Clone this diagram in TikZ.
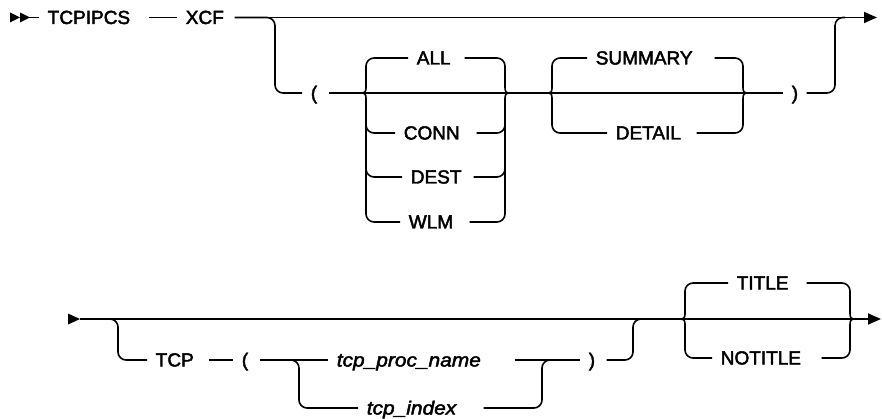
\documentclass[tikz,border=0pt]{standalone}
\usepackage{fontspec}
\setmainfont{Liberation Sans}[FakeBold=2.4, ItalicFeatures={FakeStretch=1.1}]
\usetikzlibrary{arrows.meta}
\begin{document}
\begin{tikzpicture}[x=1pt,y=-1pt,line width=1.6pt,
  lbl/.style={anchor=west,inner xsep=8pt,inner ysep=0pt,text height=13pt,text depth=0pt,
    align=left,text width=#1pt,font=\fontsize{19}{22}\selectfont},
  itl/.style={lbl=#1,font=\fontsize{19}{22}\selectfont\itshape},
  rc/.style={rounded corners=8pt},
  endarrow/.style={-{Triangle[length=13pt,width=11pt]}}]
\useasboundingbox (0,0) rectangle (882,419);

% ---------- row 1 ----------
\fill (10,12.5) -- (20,17.5) -- (10,22.5) -- cycle;
\fill (20,12.5) -- (30,17.5) -- (20,22.5) -- cycle;
\coordinate (s1) at (20,17.5);
\node[lbl=92] (tcpipcs) at (39,17.5) {TCPIPCS};
\node[lbl=40] (xcf) at (177,17.5) {XCF};
\node[lbl=9] (lp1) at (302,93) {(};
\node[lbl=39] (all) at (408,58) {ALL};
\node[lbl=64] (conn) at (395,133) {CONN};
\node[lbl=54] (dest) at (402,177) {DEST};
\node[lbl=52] (wlm) at (400,222) {WLM};
\node[lbl=110] (summ) at (587,58) {SUMMARY};
\node[lbl=72] (detail) at (607,133) {DETAIL};
\node[lbl=6] (rp1) at (783,93) {)};
\coordinate (e1) at (877,17.5);
\coordinate (b1) at (275,50);
\coordinate (b2) at (835,50);
\coordinate (j1) at (845,17.5);

\draw (s1) -- (tcpipcs.west);
\draw (tcpipcs.east) -- (xcf.west);
\draw[endarrow] (xcf.east) -- (e1);
\draw[rc] (xcf.east) -| (b1) |- (lp1.west);
\draw (lp1.east) -- (rp1.west);
\draw[rc] (rp1.east) -| (b2) |- (j1);

% ALL group left brace
\draw[rc] (all.west) -| (366,85);
\draw (366,85) .. controls (366,93) .. (358,93) .. controls (366,93) .. (366,101);
\draw[rc] (366,101) |- (wlm.west);
\draw[rc] (366,110) |- (conn.west);
\draw[rc] (366,150) |- (dest.west);
% ALL group right brace
\draw[rc] (all.east) -| (505,85);
\draw (505,85) .. controls (505,93) .. (513,93) .. controls (505,93) .. (505,101);
\draw[rc] (505,101) |- (wlm.east);
\draw[rc] (505,110) |- (conn.east);
\draw[rc] (505,150) |- (dest.east);

% SUMMARY group
\draw[rc] (summ.west) -| (552,85);
\draw (552,85) .. controls (552,93) .. (545,93) .. controls (552,93) .. (552,101);
\draw[rc] (552,101) |- (detail.west);
\draw[rc] (summ.east) -| (743,85);
\draw (743,85) .. controls (743,93) .. (751,93) .. controls (743,93) .. (743,101);
\draw[rc] (743,101) |- (detail.east);

% ---------- row 2 ----------
\fill (68,313.5) -- (80,319) -- (68,324.5) -- cycle;
\coordinate (s2) at (80,319);
\coordinate (e2) at (881,319);
\node[lbl=44] (tcp) at (147,360) {TCP};
\node[lbl=9] (lp2) at (233,360) {(};
\node[itl=169] (pname) at (328,360) {tcp\_proc\_name};
\node[itl=108] (pidx) at (358,408) {tcp\_index};
\node[lbl=9] (rp2) at (580,360) {)};
\node[lbl=61] (title) at (728,283) {TITLE};
\node[lbl=92] (notitle) at (712,358) {NOTITLE};
\coordinate (b3) at (118,340);
\coordinate (b4) at (299,380);
\coordinate (b5) at (542,380);
\coordinate (b6) at (633,340);
\coordinate (j2) at (550,360);
\coordinate (j3) at (643,319);
\coordinate (k1) at (105,319);
\coordinate (k2) at (290,360);

\draw[endarrow] (s2) -- (e2);
\draw[rc] (k1) -| (b3) |- (tcp.west);
\draw (tcp.east) -- (lp2.west);
\draw (lp2.east) -- (pname.west);
\draw (pname.east) -- (rp2.west);
\draw[rc] (k2) -| (b4) |- (pidx.west);
\draw[rc] (pidx.east) -| (b5) |- (j2);
\draw[rc] (rp2.east) -| (b6) |- (j3);

% TITLE group
\draw[rc] (title.west) -| (685,311);
\draw (685,311) .. controls (685,319) .. (677,319) .. controls (685,319) .. (685,327);
\draw[rc] (685,327) |- (notitle.west);
\draw[rc] (title.east) -| (850,311);
\draw (850,311) .. controls (850,319) .. (858,319) .. controls (850,319) .. (850,327);
\draw[rc] (850,327) |- (notitle.east);
\end{tikzpicture}
\end{document}
